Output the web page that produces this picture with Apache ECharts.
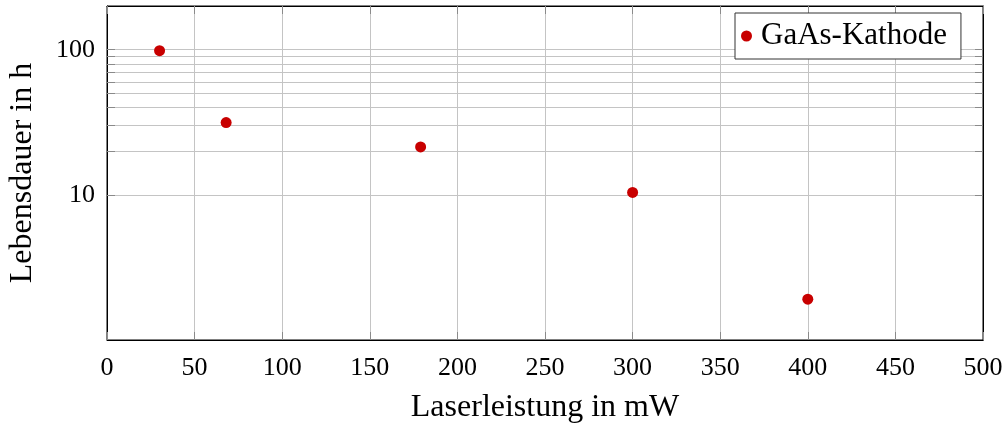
<!DOCTYPE html>
<html>
<head>
<meta charset="utf-8">
<script src="https://cdn.jsdelivr.net/npm/echarts@6/dist/echarts.min.js"></script>
<style>
  html, body { margin: 0; padding: 0; background: #fff; }
  #chart { width: 1008px; height: 423px; }
</style>
</head>
<body>
<div id="chart"></div>
<script>
// Lebensdauer einer GaAs-Kathode gegen die Laserleistung
const seriesName = 'GaAs-Kathode';
const laserPower = [30, 68, 179, 300, 400];          // mW
const lifetime = [98.5, 31.5, 21.4, 10.4, 1.91];      // h

const xTicks = [0, 50, 100, 150, 200, 250, 300, 350, 400, 450, 500];
const yTicks = [10, 20, 30, 40, 50, 60, 70, 80, 90, 100];
const yLabels = [10, 100];

const font = 'Liberation Serif';
const gridColor = '#c4c4c4';
const tickColor = '#8a8a8a';

const points = laserPower.map((x, i) => [x, lifetime[i]]);

function xAxisBase() {
  return {
    type: 'value', min: 0, max: 500, interval: 50,
    axisLine: { show: true, onZero: false, lineStyle: { color: '#000', width: 1 } },
    axisTick: { show: true, inside: true, length: 8, lineStyle: { color: tickColor, width: 1 } }
  };
}
function yAxisBase() {
  return {
    type: 'log', logBase: 10, min: 1, max: 200,
    axisLine: { show: true, onZero: false, lineStyle: { color: '#000', width: 1 } },
    axisTick: { show: true, inside: true, length: 8, customValues: yTicks.slice(),
                lineStyle: { color: tickColor, width: 1 } }
  };
}

const chart = echarts.init(document.getElementById('chart'), null, { renderer: 'canvas' });
chart.setOption({
  animation: false,
  backgroundColor: '#fff',
  textStyle: { fontFamily: font },
  grid: { left: 107, right: 25, top: 6, bottom: 83, containLabel: false, outerBoundsMode: 'none',
          show: true, borderColor: '#000', borderWidth: 1, backgroundColor: 'transparent' },
  legend: {
    data: [{ name: seriesName, icon: 'circle' }],
    left: 735, top: 13,
    itemWidth: 11, itemHeight: 11,
    backgroundColor: '#fff',
    borderColor: '#333', borderWidth: 1, borderRadius: 0,
    padding: [6, 14, 6, 6],
    textStyle: { fontFamily: font, fontSize: 31, color: '#000', lineHeight: 34, padding: [0, 0, 0, 4] }
  },
  xAxis: [
    Object.assign(xAxisBase(), {
      position: 'bottom',
      name: 'Laserleistung in mW', nameLocation: 'middle', nameGap: 52,
      nameTextStyle: { fontFamily: font, fontSize: 32, color: '#000' },
      axisLabel: { show: true, margin: 15, fontFamily: font, fontSize: 26, color: '#000',
                   customValues: xTicks },
      splitLine: { show: true, lineStyle: { color: gridColor, width: 1 } }
    }),
    Object.assign(xAxisBase(), {
      position: 'top',
      axisLabel: { show: false },
      splitLine: { show: false }
    })
  ],
  yAxis: [
    Object.assign(yAxisBase(), {
      position: 'left',
      name: 'Lebensdauer in h', nameLocation: 'middle', nameGap: 68, nameRotate: 90,
      nameTextStyle: { fontFamily: font, fontSize: 32, color: '#000' },
      axisLabel: { show: true, margin: 12, fontFamily: font, fontSize: 26, color: '#000',
                   customValues: yLabels, formatter: v => String(Math.round(v)) },
      splitLine: { show: true, lineStyle: { color: gridColor, width: 1 } }
    }),
    Object.assign(yAxisBase(), {
      position: 'right',
      axisLabel: { show: true, color: 'rgba(0,0,0,0)', customValues: yLabels, formatter: () => '' },
      splitLine: { show: false }
    })
  ],
  series: [{
    name: seriesName,
    type: 'scatter',
    xAxisIndex: 0, yAxisIndex: 0,
    symbol: 'circle', symbolSize: 11,
    itemStyle: { color: '#c80000', opacity: 1 },
    data: points
  }]
});
</script>
</body>
</html>
